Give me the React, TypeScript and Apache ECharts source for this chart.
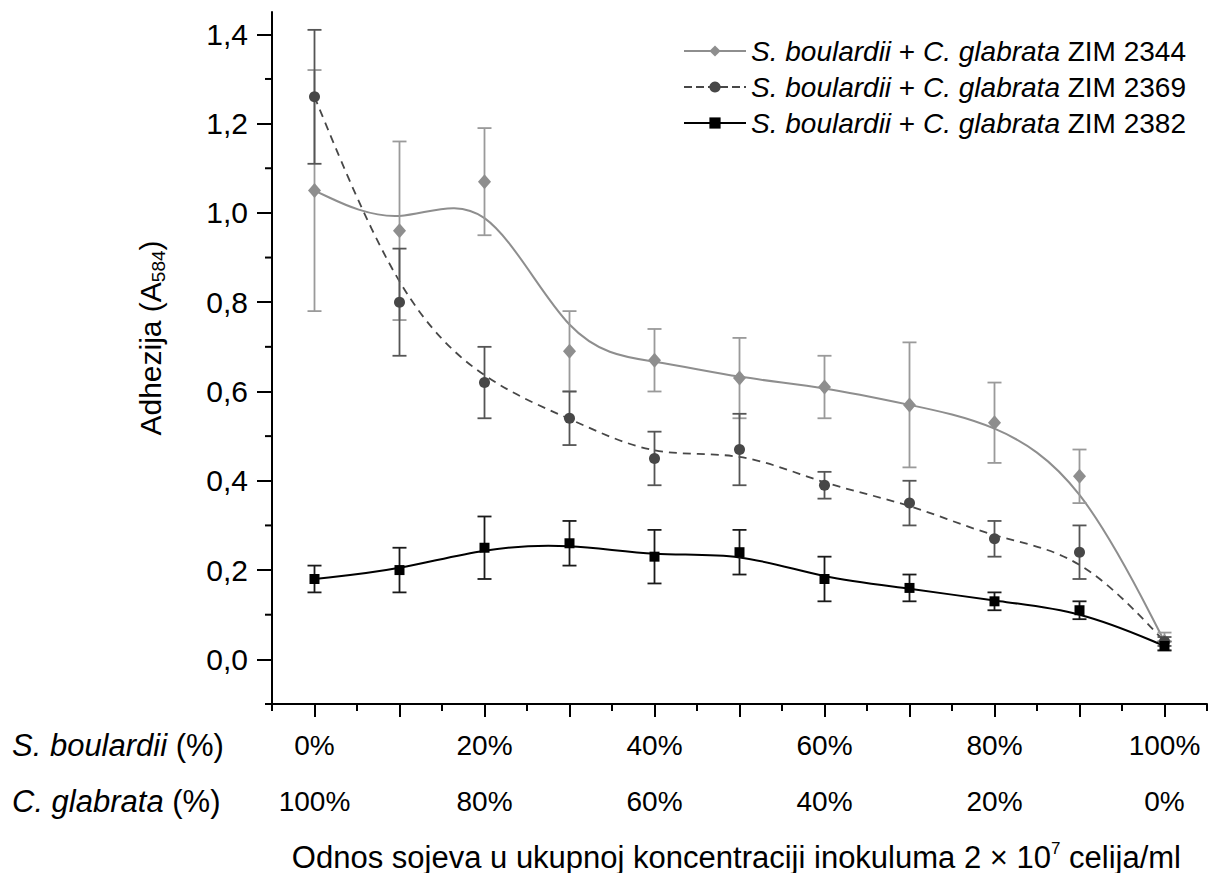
import React, { useEffect, useRef } from 'react';
import * as echarts from 'echarts';

// Share of S. boulardii in the inoculum (%)
const ratios = [0, 10, 20, 30, 40, 50, 60, 70, 80, 90, 100];

// Adhesion (A584), means and error-bar limits per strain combination
const zim2344 = [1.05, 0.96, 1.07, 0.69, 0.67, 0.63, 0.61, 0.57, 0.53, 0.41, 0.04];
const zim2344Low = [0.78, 0.76, 0.95, 0.6, 0.6, 0.54, 0.54, 0.43, 0.44, 0.35, 0.02];
const zim2344High = [1.32, 1.16, 1.19, 0.78, 0.74, 0.72, 0.68, 0.71, 0.62, 0.47, 0.06];

const zim2369 = [1.26, 0.8, 0.62, 0.54, 0.45, 0.47, 0.39, 0.35, 0.27, 0.24, 0.04];
const zim2369Low = [1.11, 0.68, 0.54, 0.48, 0.39, 0.39, 0.36, 0.3, 0.23, 0.18, 0.03];
const zim2369High = [1.41, 0.92, 0.7, 0.6, 0.51, 0.55, 0.42, 0.4, 0.31, 0.3, 0.05];

const zim2382 = [0.18, 0.2, 0.25, 0.26, 0.23, 0.24, 0.18, 0.16, 0.13, 0.11, 0.03];
const zim2382Low = [0.15, 0.15, 0.18, 0.21, 0.17, 0.19, 0.13, 0.13, 0.11, 0.09, 0.02];
const zim2382High = [0.21, 0.25, 0.32, 0.31, 0.29, 0.29, 0.23, 0.19, 0.15, 0.13, 0.04];

const seriesNames = [
  'S. boulardii + C. glabrata ZIM 2344',
  'S. boulardii + C. glabrata ZIM 2369',
  'S. boulardii + C. glabrata ZIM 2382',
];

// Axis ranges, ticks and labels
const X_MIN = -5;
const X_MAX = 105;
const Y_MIN = -0.1;
const Y_MAX = 1.45;
const xMajorTicks = [0, 10, 20, 30, 40, 50, 60, 70, 80, 90, 100];
const xMinorTicks = [-5, 5, 15, 25, 35, 45, 55, 65, 75, 85, 95, 105];
const xLabelValues = [0, 20, 40, 60, 80, 100];
const yMajorTicks = [0, 0.2, 0.4, 0.6, 0.8, 1.0, 1.2, 1.4];
const yMinorTicks = [-0.1, 0.1, 0.3, 0.5, 0.7, 0.9, 1.1, 1.3];

const FONT = '"Liberation Sans", Arial, Helvetica, sans-serif';
const TICK_FS = 30;
const XLAB_FS = 28;
const LEGEND_FS = 28;
const TEXT_FS = 31;
const MINOR_TICK_LEN = 7;

// Uniform cubic B-spline (end points clamped) written as cubic Bezier segments
function bsplinePath(pts: number[][]): string {
  const n = pts.length;
  const q = [pts[0], pts[0], ...pts, pts[n - 1], pts[n - 1]];
  let d = `M${pts[0][0]},${pts[0][1]}`;
  for (let i = 0; i + 3 < q.length; i++) {
    const p1 = q[i + 1];
    const p2 = q[i + 2];
    const p3 = q[i + 3];
    const c1x = (2 * p1[0] + p2[0]) / 3;
    const c1y = (2 * p1[1] + p2[1]) / 3;
    const c2x = (p1[0] + 2 * p2[0]) / 3;
    const c2y = (p1[1] + 2 * p2[1]) / 3;
    const ex = (p1[0] + 4 * p2[0] + p3[0]) / 6;
    const ey = (p1[1] + 4 * p2[1] + p3[1]) / 6;
    d += ` C${c1x},${c1y} ${c2x},${c2y} ${ex},${ey}`;
  }
  return d;
}

function splineSeries(values: number[], color: string, width: number, dash?: number[]) {
  return {
    type: 'custom',
    z: 2,
    data: ratios.map((x, i) => [x, values[i]]),
    encode: { x: 0, y: 1 },
    renderItem: (params: any, api: any) => {
      if (params.dataIndex !== 0) return null;
      const pts = ratios.map((x, i) => api.coord([x, values[i]]));
      return {
        type: 'path',
        shape: { pathData: bsplinePath(pts) },
        style: {
          fill: 'none',
          stroke: color,
          lineWidth: width,
          lineDash: dash || null,
        },
      };
    },
  };
}

function errorSeries(low: number[], high: number[], color: string) {
  return {
    type: 'custom',
    z: 3,
    data: ratios.map((x, i) => [x, low[i], high[i]]),
    encode: { x: 0, y: [1, 2] },
    renderItem: (params: any, api: any) => {
      const lo = api.coord([api.value(0), api.value(1)]);
      const hi = api.coord([api.value(0), api.value(2)]);
      const cap = 7;
      return {
        type: 'group',
        children: [
          { type: 'line', shape: { x1: lo[0], y1: lo[1], x2: hi[0], y2: hi[1] }, style: { stroke: color, lineWidth: 1.8 } },
          { type: 'line', shape: { x1: lo[0] - cap, y1: lo[1], x2: lo[0] + cap, y2: lo[1] }, style: { stroke: color, lineWidth: 1.8 } },
          { type: 'line', shape: { x1: hi[0] - cap, y1: hi[1], x2: hi[0] + cap, y2: hi[1] }, style: { stroke: color, lineWidth: 1.8 } },
        ],
      };
    },
  };
}

function pointSeries(name: string, values: number[], color: string, symbol: string, size: any) {
  return {
    type: 'line',
    name,
    z: 4,
    data: ratios.map((x, i) => [x, values[i]]),
    symbol,
    symbolSize: size,
    showSymbol: true,
    itemStyle: { color, opacity: 1 },
    lineStyle: { width: 0, opacity: 0 },
  };
}

// Short (minor) ticks between the labelled ones, placed through the axis scales
const xMinorTickSeries = {
  type: 'custom',
  z: 5,
  data: xMinorTicks.map((v) => [v, Y_MIN]),
  encode: { x: 0, y: 1 },
  renderItem: (params: any, api: any) => {
    const p = api.coord([api.value(0), Y_MIN]);
    return {
      type: 'line',
      shape: { x1: p[0], y1: p[1], x2: p[0], y2: p[1] + MINOR_TICK_LEN },
      style: { stroke: '#000', lineWidth: 2 },
    };
  },
};

const yMinorTickSeries = {
  type: 'custom',
  z: 5,
  data: yMinorTicks.map((v) => [X_MIN, v]),
  encode: { x: 0, y: 1 },
  renderItem: (params: any, api: any) => {
    const p = api.coord([X_MIN, api.value(1)]);
    return {
      type: 'line',
      shape: { x1: p[0] - MINOR_TICK_LEN, y1: p[1], x2: p[0], y2: p[1] },
      style: { stroke: '#000', lineWidth: 2 },
    };
  },
};

// Bottom and left axis lines along the plot frame, as thin filled bars
const frameSeries = {
  type: 'custom',
  z: 6,
  data: [[X_MIN, Y_MIN]],
  encode: { x: 0, y: 1 },
  renderItem: (params: any, api: any) => {
    const o = api.coord([X_MIN, Y_MIN]);
    const r = api.coord([X_MAX, Y_MIN]);
    const t = api.coord([X_MIN, Y_MAX]);
    return {
      type: 'group',
      children: [
        { type: 'rect', shape: { x: o[0] - 1, y: o[1] - 1, width: r[0] - o[0] + 1, height: 2 }, style: { fill: '#000' } },
        { type: 'rect', shape: { x: o[0] - 1, y: t[1], width: 2, height: o[1] - t[1] + 1 }, style: { fill: '#000' } },
      ],
    };
  },
};

const colors = ['#8e8e8e', '#474747', '#000000'];
const barColors = ['#9a9a9a', '#555555', '#1a1a1a'];

const textGraphics = [
  {
    type: 'text',
    x: 150,
    y: 338,
    rotation: Math.PI / 2,
    style: {
      text: 'Adhezija (A{sub|584})',
      align: 'center',
      verticalAlign: 'middle',
      fontFamily: FONT,
      fontSize: 30,
      fill: '#000',
      rich: {
        sub: { fontSize: 19, fontFamily: FONT, fill: '#000', padding: [16, 0, 0, 0] },
      },
    },
  },
  {
    type: 'text',
    x: 12,
    y: 745,
    style: {
      text: '{i|S. boulardii} (%)',
      align: 'left',
      verticalAlign: 'middle',
      fontFamily: FONT,
      fontSize: TEXT_FS,
      fill: '#000',
      rich: { i: { fontStyle: 'italic', fontFamily: FONT, fontSize: TEXT_FS, fill: '#000' } },
    },
  },
  {
    type: 'text',
    x: 12,
    y: 801,
    style: {
      text: '{i|C. glabrata} (%)',
      align: 'left',
      verticalAlign: 'middle',
      fontFamily: FONT,
      fontSize: TEXT_FS,
      fill: '#000',
      rich: { i: { fontStyle: 'italic', fontFamily: FONT, fontSize: TEXT_FS, fill: '#000' } },
    },
  },
  {
    type: 'text',
    x: 1181,
    y: 857,
    style: {
      text: 'Odnos sojeva u ukupnoj koncentraciji inokuluma 2 × 10{sup|7} celija/ml',
      align: 'right',
      verticalAlign: 'middle',
      fontFamily: FONT,
      fontSize: 31,
      fill: '#000',
      rich: { sup: { fontSize: 17, fontFamily: FONT, fill: '#000', padding: [0, 0, 18, 0] } },
    },
  },
];

export default function App() {
  const ref = useRef<HTMLDivElement>(null);

  useEffect(() => {
    if (!ref.current) return;
    const chart = echarts.init(ref.current, undefined, { renderer: 'svg' });

    const option: any = {
      animation: false,
      grid: { left: 272, right: 1, top: 12, bottom: 169 },
      xAxis: {
        type: 'value',
        min: X_MIN,
        max: X_MAX,
        axisLine: { show: true, onZero: false, lineStyle: { color: '#000', width: 2 } },
        splitLine: { show: false },
        axisTick: {
          show: true,
          customValues: xMajorTicks,
          length: 13,
          lineStyle: { color: '#000', width: 2 },
        },
        axisLabel: {
          show: true,
          customValues: xLabelValues,
          margin: 13,
          formatter: (v: number) => `${v}%\n${100 - v}%`,
          color: '#000',
          fontFamily: FONT,
          fontSize: XLAB_FS,
          lineHeight: 56,
        },
      },
      yAxis: {
        type: 'value',
        min: Y_MIN,
        max: Y_MAX,
        axisLine: { show: true, onZero: false, lineStyle: { color: '#000', width: 2 } },
        splitLine: { show: false },
        axisTick: {
          show: true,
          customValues: yMajorTicks,
          length: 15,
          lineStyle: { color: '#000', width: 2 },
        },
        axisLabel: {
          show: true,
          customValues: yMajorTicks,
          margin: 24,
          formatter: (v: number) => v.toFixed(1).replace('.', ','),
          color: '#000',
          fontFamily: FONT,
          fontSize: TICK_FS,
        },
      },
      legend: {
        show: true,
        orient: 'vertical',
        left: 678,
        top: 32,
        itemWidth: 62,
        itemHeight: 14,
        itemGap: 8,
        selectedMode: false,
        data: [
          { name: seriesNames[0], lineStyle: { width: 2, color: colors[0], type: 'solid', opacity: 1 } },
          { name: seriesNames[1], lineStyle: { width: 2, color: colors[1], type: 'dashed', opacity: 1 } },
          { name: seriesNames[2], lineStyle: { width: 2, color: colors[2], type: 'solid', opacity: 1 } },
        ],
        formatter: (name: string) => {
          const tail = name.replace('S. boulardii + C. glabrata ', '');
          return `{i|S. boulardii} + {i|C. glabrata} ${tail}`;
        },
        textStyle: {
          color: '#000',
          fontFamily: FONT,
          fontSize: LEGEND_FS,
          lineHeight: 26,
          rich: {
            i: { fontStyle: 'italic', fontFamily: FONT, fontSize: LEGEND_FS, lineHeight: 26, color: '#000' },
          },
        },
      },
      graphic: textGraphics,
      series: [
        pointSeries(seriesNames[0], zim2344, colors[0], 'diamond', [13, 15]),
        pointSeries(seriesNames[1], zim2369, colors[1], 'circle', 11),
        pointSeries(seriesNames[2], zim2382, colors[2], 'rect', 10),
        splineSeries(zim2344, colors[0], 2),
        splineSeries(zim2369, colors[1], 1.8, [8, 6]),
        splineSeries(zim2382, colors[2], 2),
        errorSeries(zim2344Low, zim2344High, barColors[0]),
        errorSeries(zim2369Low, zim2369High, barColors[1]),
        errorSeries(zim2382Low, zim2382High, barColors[2]),
        xMinorTickSeries,
        yMinorTickSeries,
        frameSeries,
      ],
    };

    chart.setOption(option);

    // Axis frame overlay positioned from the grid's own scales
    const o = chart.convertToPixel({ gridIndex: 0 }, [X_MIN, Y_MIN]) as number[];
    const r = chart.convertToPixel({ gridIndex: 0 }, [X_MAX, Y_MIN]) as number[];
    const t = chart.convertToPixel({ gridIndex: 0 }, [X_MIN, Y_MAX]) as number[];
    if (o && r && t) {
      chart.setOption({
        graphic: [
          ...textGraphics,
          {
            type: 'rect',
            z: 100,
            shape: { x: o[0] - 1, y: o[1] - 1, width: r[0] - o[0] + 1, height: 2 },
            style: { fill: '#000' },
          },
          {
            type: 'rect',
            z: 100,
            shape: { x: o[0] - 1, y: t[1], width: 2, height: o[1] - t[1] + 1 },
            style: { fill: '#000' },
          },
        ],
      });
    }

    return () => chart.dispose();
  }, []);

  return (
    <div
      ref={ref}
      style={{ position: 'fixed', left: 0, top: 0, width: 1208, height: 873, background: '#fff' }}
    />
  );
}
